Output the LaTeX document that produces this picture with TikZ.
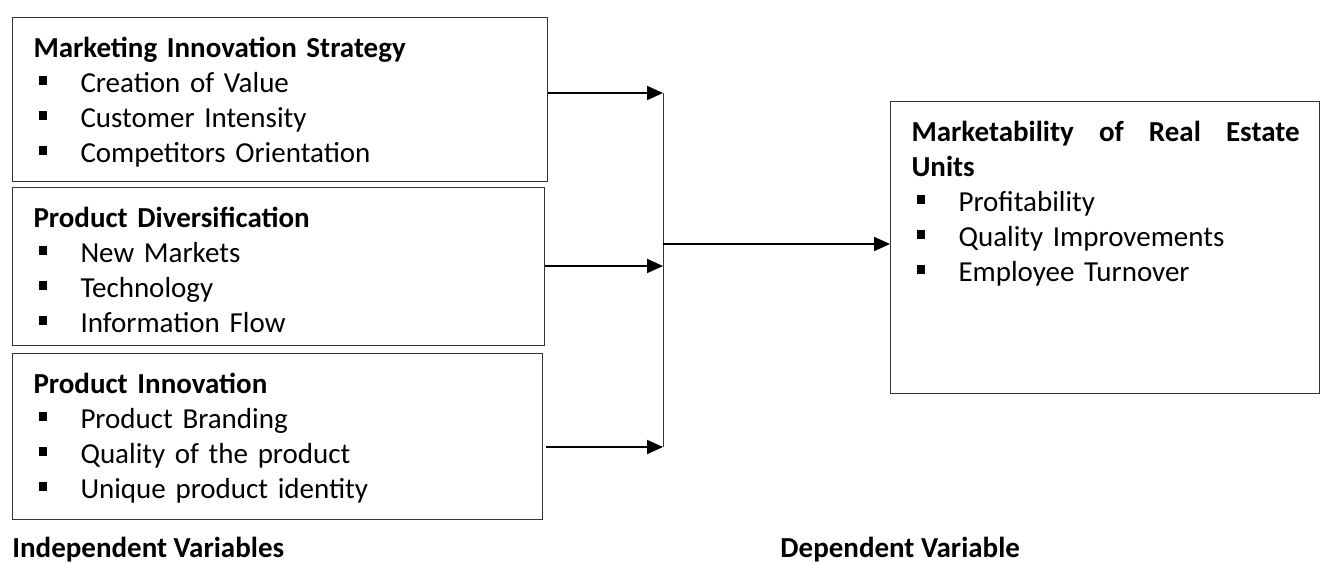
\documentclass[tikz,border=0pt]{standalone}
\usepackage{fontspec}
\setmainfont{Carlito}
\usetikzlibrary{arrows.meta}
\newcommand{\sqbullet}{\makebox[23.5pt][l]{\hspace{2.5pt}\rule[3.6pt]{4.2pt}{4.2pt}}}
\begin{document}
\begin{tikzpicture}[x=0.5pt,y=-0.5pt,
    varbox/.style={draw=black!80,line width=0.5pt,anchor=north west,inner xsep=10.5pt,inner ysep=0pt,text height=19.75pt,font=\fontsize{14.5pt}{17.5pt}\selectfont},
    caption/.style={anchor=base west,inner sep=0pt,font=\fontsize{14.5pt}{17.5pt}\selectfont\bfseries},
    link/.style={line width=1pt,-{Triangle[length=8pt,width=7pt]}}]
    \useasboundingbox (0,0) rectangle (1320,563);
    \node[varbox,text width=246.5pt,text depth=62.25pt] (mis) at (12,17) {\textbf{Marketing Innovation Strategy}\\
        \sqbullet Creation of Value\\
        \sqbullet Customer Intensity\\
        \sqbullet Competitors Orientation};
    \node[varbox,text width=245pt,text depth=59.25pt] (pd) at (12,187) {\textbf{Product Diversification}\\
        \sqbullet New Markets\\
        \sqbullet Technology\\
        \sqbullet Information Flow};
    \node[varbox,text width=244pt,text depth=63.25pt] (pi) at (12,353) {\textbf{Product Innovation}\\
        \sqbullet Product Branding\\
        \sqbullet Quality of the product\\
        \sqbullet Unique product identity};
    \node[varbox,text width=193.5pt,text depth=126.25pt] (mreu) at (890,101) {\textbf{\hbox to 194pt{Marketability\hfill of\hfill Real\hfill Estate}}\\
        \textbf{Units}\\
        \sqbullet Profitability\\
        \sqbullet Quality Improvements\\
        \sqbullet Employee Turnover};
    \node[caption] (indep) at (12,557) {Independent Variables};
    \node[caption] (dep) at (780,557) {Dependent Variable};
    \coordinate (j1) at (663,93);
    \coordinate (j2) at (663,266);
    \coordinate (j3) at (663,447);
    \coordinate (jm) at (663,244);
    \draw[link] (mis.east |- j1) -- (j1);
    \draw[link] (pd.east |- j2) -- (j2);
    \draw[link] ([xshift=1.5pt]pi.east |- j3) -- (j3);
    \draw[black!80,line width=0.5pt] (j1) -- (j3);
    \draw[link] (jm) -- (mreu.west |- jm);
\end{tikzpicture}
\end{document}
